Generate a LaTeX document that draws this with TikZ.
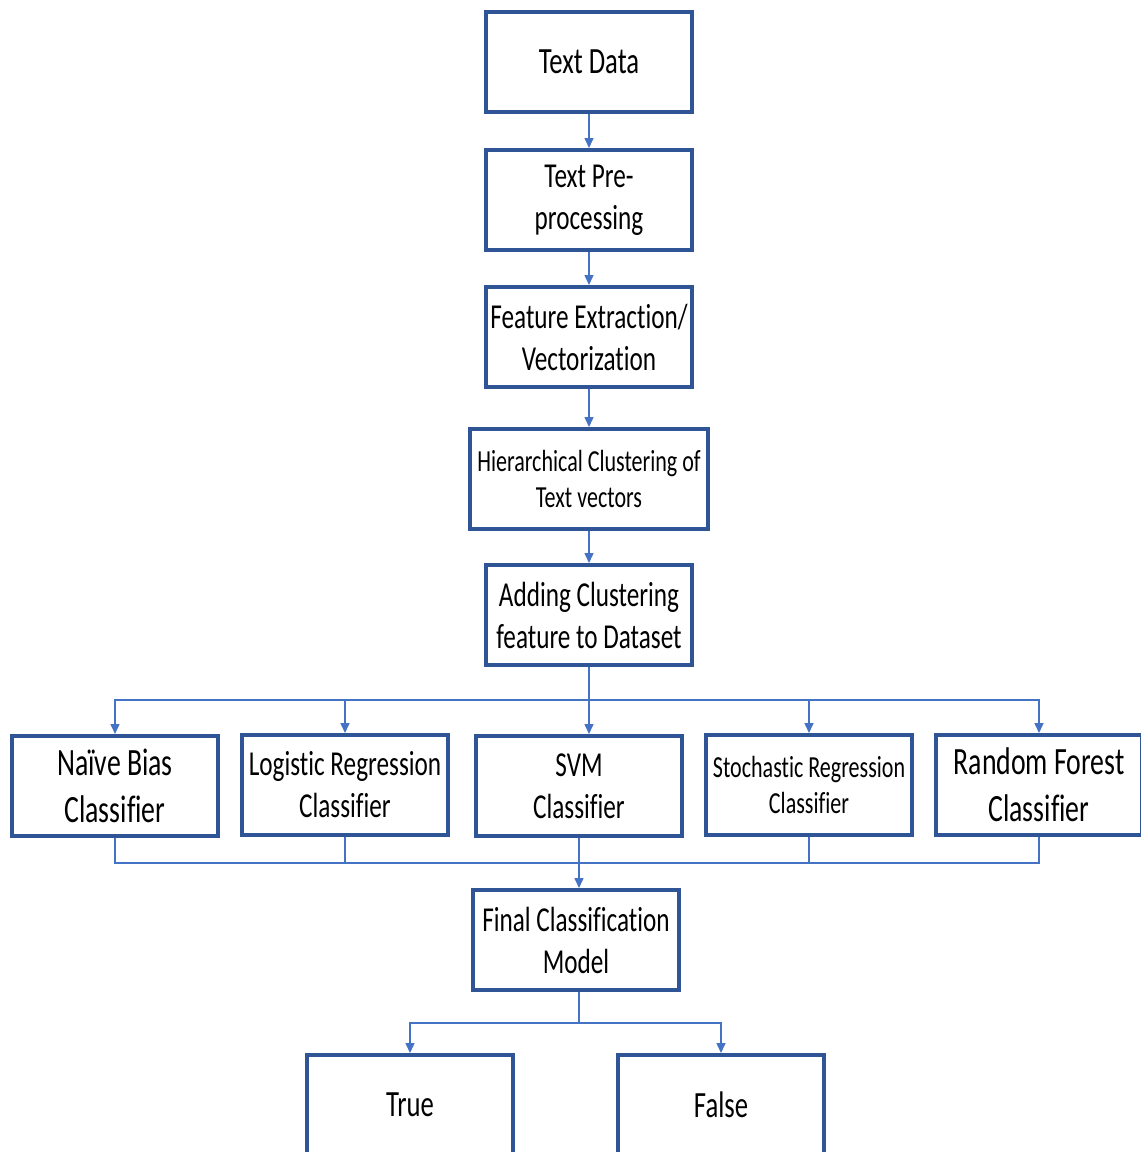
\documentclass[tikz,border=0pt]{standalone}
\usepackage{fontspec}
\setmainfont{Carlito}[FakeStretch=0.72, Ligatures=CommonOff]
\usetikzlibrary{arrows.meta}
\definecolor{boxblue}{HTML}{2F5597}
\definecolor{lineblue}{HTML}{4472C4}
\begin{document}
\begin{tikzpicture}[x=0.5pt,y=-0.5pt,
  stage/.style={draw=boxblue, line width=2pt, fill=white, minimum width=103pt,
    minimum height=50pt, align=center, inner sep=1pt,
    font=\fontsize{17.5}{21}\selectfont},
  big/.style={font=\fontsize{19.3}{23.5}\selectfont},
  small/.style={font=\fontsize{15.3}{18}\selectfont},
  wire/.style={draw=lineblue, line width=0.75pt},
  link/.style={wire, -{Triangle[length=5pt,width=4.5pt]}}]
\useasboundingbox (0,0) rectangle (1141,1152);
\clip (0,0) rectangle (1141,1152);
\node[stage,font=\fontsize{18.5}{22}\selectfont] (data) at (589,62) {Text Data};
\node[stage] (prep) at (589,200) {Text Pre-\\processing};
\node[stage] (feat) at (589,337) {Feature Extraction/\\Vectorization};
\node[stage,small,minimum width=119pt] (hier) at (589,479) {Hierarchical Clustering of\\Text vectors};
\node[stage] (add) at (589,615) {Adding Clustering\\feature to Dataset};
\node[stage,big] (nb) at (115,786) {Naïve Bias\\Classifier};
\node[stage] (lr) at (345,785) {Logistic Regression\\Classifier};
\node[stage] (svm) at (579,786) {SVM\\Classifier};
\node[stage,small] (sr) at (809,785) {Stochastic Regression\\Classifier};
\node[stage,big] (rf) at (1039,785) {Random Forest\\Classifier};
\node[stage] (final) at (576,940) {Final Classification\\Model};
\node[stage,font=\fontsize{18.5}{22}\selectfont] (true) at (410,1105) {True};
\node[stage,font=\fontsize{18.5}{22}\selectfont] (false) at (721,1105) {False};
\coordinate (fan) at (589,700);
\coordinate (join) at (579,863);
\coordinate (fork) at (579,1023);
\draw[link] (data) -- (prep);
\draw[link] (prep) -- (feat);
\draw[link] (feat) -- (hier);
\draw[link] (hier) -- (add);
\draw[wire] (add) -- (fan);
\draw[link] (fan) -| (nb.north);
\draw[link] (fan) -| (lr.north);
\draw[link] (fan) -- (fan |- svm.north);
\draw[link] (fan) -| (sr.north);
\draw[link] (fan) -| (rf.north);
\draw[wire] (nb.south) |- (join);
\draw[wire] (lr.south) |- (join);
\draw[wire] (svm.south -| join) -- (join);
\draw[wire] (sr.south) |- (join);
\draw[wire] (rf.south) |- (join);
\draw[link] (join) -- (join |- final.north);
\draw[wire] (final.south -| fork) -- (fork);
\draw[link] (fork) -| (true.north);
\draw[link] (fork) -| (false.north);
\end{tikzpicture}
\end{document}
